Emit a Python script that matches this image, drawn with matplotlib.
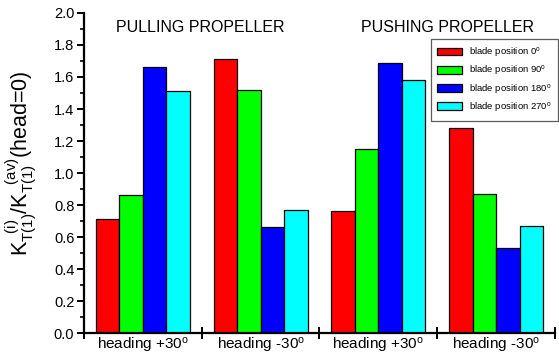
import numpy as np
import matplotlib
matplotlib.use("Agg")
import matplotlib.pyplot as plt
from matplotlib.ticker import MultipleLocator, FixedLocator, NullFormatter, FixedFormatter

plt.rcParams['font.family'] = ['Liberation Sans', 'DejaVu Sans']
plt.rcParams['mathtext.fontset'] = 'custom'
plt.rcParams['mathtext.rm'] = 'Liberation Sans'
plt.rcParams['mathtext.it'] = 'Liberation Sans:italic'

# Thrust coefficient ratio for each heading case and blade position
categories = ["heading +30$^{\\mathrm{o}}$", "heading -30$^{\\mathrm{o}}$",
              "heading +30$^{\\mathrm{o}}$", "heading -30$^{\\mathrm{o}}$"]
blade_0 = [0.71, 1.71, 0.76, 1.28]
blade_90 = [0.86, 1.52, 1.15, 0.87]
blade_180 = [1.66, 0.66, 1.69, 0.53]
blade_270 = [1.51, 0.77, 1.58, 0.67]
series_labels = ["blade position 0$^{\\mathrm{o}}$", "blade position 90$^{\\mathrm{o}}$",
                 "blade position 180$^{\\mathrm{o}}$", "blade position 270$^{\\mathrm{o}}$"]
series_colors = ["#ff0000", "#00ff00", "#0000ff", "#00ffff"]
panel_titles = ["PULLING PROPELLER", "PUSHING PROPELLER"]

fig = plt.figure(figsize=(5.59, 3.58), dpi=100)
ax = fig.add_axes([0.1503, 0.0698, 0.8425, 0.8939])

x = np.arange(len(categories))
width = 0.2
series = [blade_0, blade_90, blade_180, blade_270]
for i, (vals, lab, col) in enumerate(zip(series, series_labels, series_colors)):
    ax.bar(x + (i - 1.5) * width, vals, width, color=col, edgecolor='black',
           linewidth=0.9, label=lab)

ax.set_xlim(-0.5, len(categories) - 0.5)
ax.set_ylim(0, 2.0)

for s in ['top', 'right']:
    ax.spines[s].set_visible(False)
for s in ['left', 'bottom']:
    ax.spines[s].set_linewidth(1.6)

ax.yaxis.set_major_locator(MultipleLocator(0.2))
ax.yaxis.set_minor_locator(MultipleLocator(0.1))
ax.yaxis.set_major_formatter(matplotlib.ticker.FormatStrFormatter('%.1f'))
ax.tick_params(axis='y', which='major', direction='out', length=5, width=1.4, labelsize=10.5, pad=2)
ax.tick_params(axis='y', which='minor', direction='out', length=3, width=1.2)

# group boundaries as ticks, category names centred under each group
ax.xaxis.set_major_locator(FixedLocator(np.arange(-0.5, len(categories), 1.0)))
ax.xaxis.set_major_formatter(NullFormatter())
ax.xaxis.set_minor_locator(FixedLocator(x))
ax.xaxis.set_minor_formatter(FixedFormatter(categories))
ax.tick_params(axis='x', which='major', direction='inout', length=8, width=1.4)
ax.tick_params(axis='x', which='minor', length=0, labelsize=11, pad=2)

ax.set_ylabel(r"K$_{\mathrm{T(1)}}^{\ \ \mathrm{(i)}}$/K$_{\mathrm{T(1)}}^{\ \ \mathrm{(av)}}$(head=0)",
              fontsize=15.5)
ax.yaxis.set_label_coords(-0.095, 0.53)

ax.text(0.49, 1.91, panel_titles[0], ha='center', va='center', fontsize=11.5)
ax.text(2.59, 1.91, panel_titles[1], ha='center', va='center', fontsize=11.5)

leg = ax.legend(loc='upper right', bbox_to_anchor=(1.006, 0.92), fontsize=6.8,
                frameon=True, fancybox=False, edgecolor='#333333',
                handlelength=2.6, handleheight=0.9, labelspacing=0.45,
                borderpad=0.7, handletextpad=0.7, borderaxespad=0.0)
leg.get_frame().set_linewidth(0.9)

fig.savefig("out.png", dpi=100)
